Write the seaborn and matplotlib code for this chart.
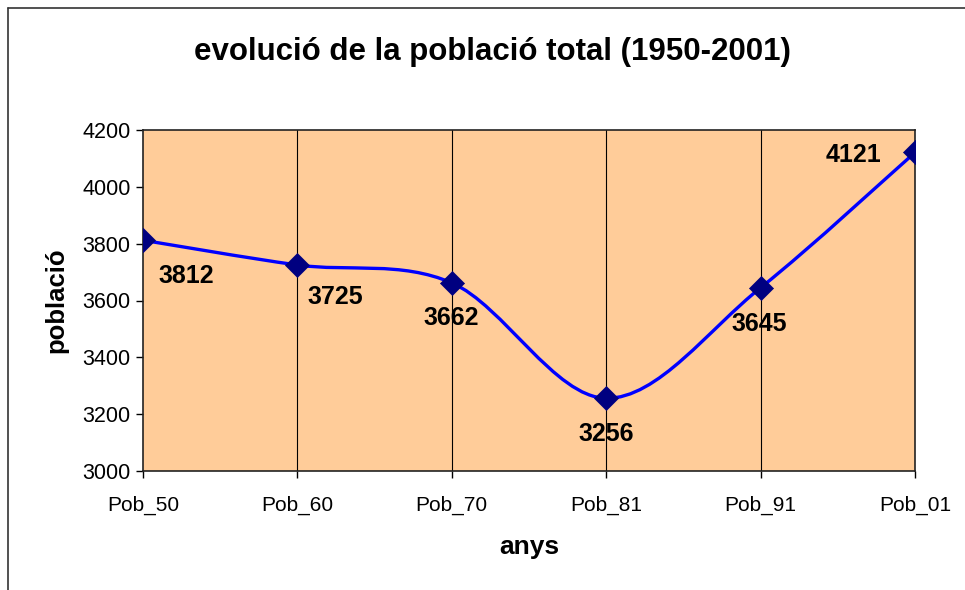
import matplotlib
matplotlib.use("Agg")
import matplotlib.pyplot as plt
import seaborn as sns
import pandas as pd
import numpy as np
from matplotlib.path import Path
from matplotlib.patches import PathPatch
from matplotlib.lines import Line2D

# ---- data ----
categories = ["Pob_50", "Pob_60", "Pob_70", "Pob_81", "Pob_91", "Pob_01"]
poblacio = [3812, 3725, 3662, 3256, 3645, 4121]
y_ticks = [3000, 3200, 3400, 3600, 3800, 4000, 4200]

title = "evolució de la població total (1950-2001)"
xlabel = "anys"
ylabel = "població"

sns.set_theme(style="white")
plt.rcParams['font.family'] = ['Liberation Sans', 'DejaVu Sans']
plt.rcParams['text.color'] = 'black'
plt.rcParams['axes.labelcolor'] = 'black'
plt.rcParams['xtick.color'] = 'black'
plt.rcParams['ytick.color'] = 'black'

df = pd.DataFrame({"cat": categories, "pob": poblacio})
df["x"] = np.arange(len(categories))

fig = plt.figure(figsize=(9.65, 5.9), dpi=100)
ax = fig.add_axes([143/965, 1-471/590, (915-143)/965, (471-130)/590])
ax.set_facecolor("#FFCC99")

# smoothed line (Excel-style Catmull-Rom Bezier through the data points)
xs = df["x"].to_numpy(dtype=float)
ys = df["pob"].to_numpy(dtype=float)
verts = [(xs[0], ys[0])]
codes = [Path.MOVETO]
n = len(xs)
for i in range(n - 1):
    p0 = (xs[max(i-1, 0)], ys[max(i-1, 0)])
    p1 = (xs[i], ys[i])
    p2 = (xs[i+1], ys[i+1])
    p3 = (xs[min(i+2, n-1)], ys[min(i+2, n-1)])
    c1 = (p1[0] + (p2[0]-p0[0])/6, p1[1] + (p2[1]-p0[1])/6)
    c2 = (p2[0] - (p3[0]-p1[0])/6, p2[1] - (p3[1]-p1[1])/6)
    verts += [c1, c2, p2]
    codes += [Path.CURVE4]*3
ax.add_patch(PathPatch(Path(verts, codes), facecolor="none", edgecolor="#0000FF",
                       lw=2.4, zorder=3, capstyle="round", joinstyle="round"))

sns.scatterplot(data=df, x="x", y="pob", marker="D", s=150, color="#000080",
                edgecolor="#000080", linewidth=0.5, zorder=4, ax=ax, legend=False)

# data labels
offsets = [(43, -36), (38, -32), (-1, -35), (0, -36), (-1, -36), (-62, -3)]
for (xv, yv), (dx, dy) in zip(zip(xs, ys), offsets):
    ax.annotate(f"{int(yv)}", (xv, yv), xytext=(dx*0.72, dy*0.72), textcoords="offset points",
                ha="center", va="center", fontsize=18, fontweight="bold", color="black",
                zorder=5)

ax.set_xlim(0, len(categories)-1)
ax.set_ylim(3000, 4200)
ax.set_xticks(xs)
ax.set_xticklabels(categories)
ax.set_yticks(y_ticks)
ax.set_yticklabels([str(t) for t in y_ticks])
ax.tick_params(axis="y", which="major", direction="out", length=5, width=1, color="black",
               labelsize=15.5, pad=4, left=True)
ax.tick_params(axis="x", which="major", direction="out", length=5, width=1, color="black",
               labelsize=15, pad=13, bottom=True)
for xv in xs[1:-1]:
    ax.axvline(xv, color="black", lw=0.8, zorder=1)
for sp in ax.spines.values():
    sp.set_visible(True)
    sp.set_color("#222222")
    sp.set_linewidth(1.2)

ax.set_xlabel(xlabel, fontsize=19, fontweight="bold", labelpad=14)
ax.set_ylabel(ylabel, fontsize=18.5, fontweight="bold", labelpad=10)
fig.text(492/965, 1-52/590, title, ha="center", va="center", fontsize=22.5, fontweight="bold")

# outer chart-area border (left and top visible)
fig.add_artist(Line2D([8/965, 8/965], [0, 1-8/590], transform=fig.transFigure, color="#333333", lw=1.2))
fig.add_artist(Line2D([8/965, 1], [1-8/590, 1-8/590], transform=fig.transFigure, color="#333333", lw=1.2))

fig.savefig("out.png", dpi=100)
